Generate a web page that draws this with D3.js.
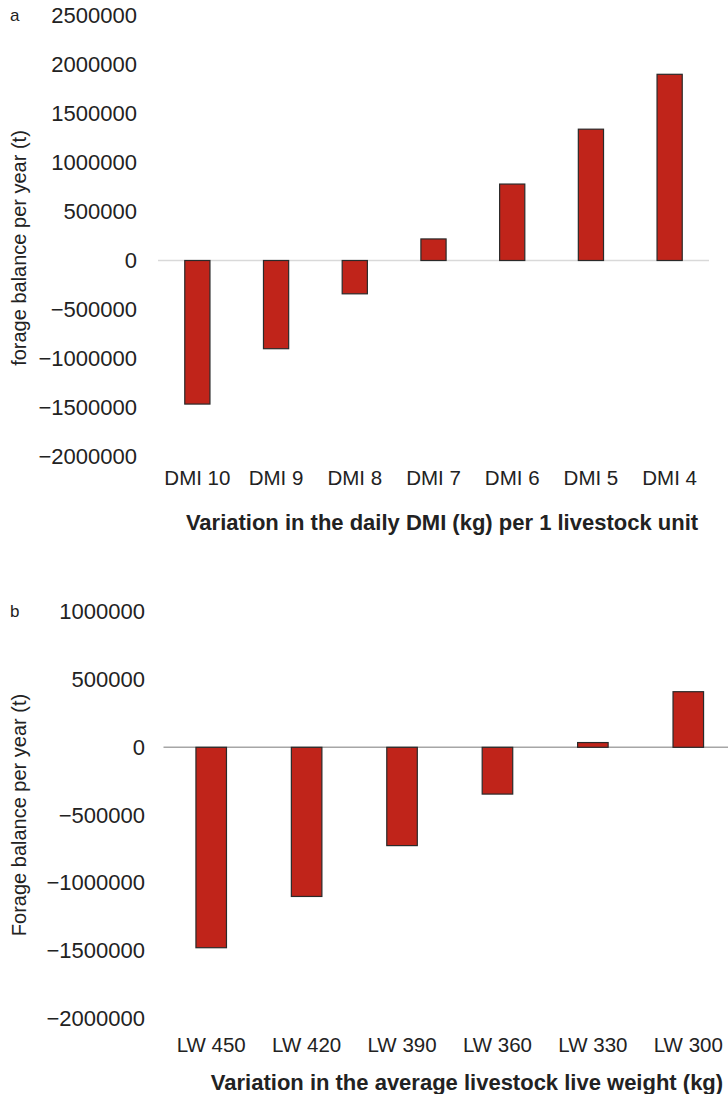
<!DOCTYPE html>
<html>
<head>
<meta charset="utf-8">
<script src="https://cdn.jsdelivr.net/npm/d3@7"></script>
<style>
  html, body { margin: 0; padding: 0; background: #fff; }
  svg { display: block; font-family: "Liberation Sans", Arial, sans-serif; }
</style>
</head>
<body>
<figure id="charts" style="margin:0"></figure>
<script>
// panel a: daily dry matter intake
const dmiCategories = ["DMI 10", "DMI 9", "DMI 8", "DMI 7", "DMI 6", "DMI 5", "DMI 4"];
const dmiValues = [-1465000, -900000, -340000, 220000, 780000, 1340000, 1900000];
const dmiTicks = [-2000000, -1500000, -1000000, -500000, 0, 500000, 1000000, 1500000, 2000000, 2500000];

// panel b: average live weight
const lwCategories = ["LW 450", "LW 420", "LW 390", "LW 360", "LW 330", "LW 300"];
const lwValues = [-1478000, -1100000, -725000, -345000, 35000, 410000];
const lwTicks = [-2000000, -1500000, -1000000, -500000, 0, 500000, 1000000];

const width = 728, height = 1094;
const barFill = "#c0241a";

const svg = d3.select("#charts")
  .append("svg")
  .attr("width", width)
  .attr("height", height);

function drawPanel(opts) {
  const g = svg.append("g");

  const x = d3.scaleBand()
    .domain(opts.categories)
    .range([opts.left, opts.right])
    .paddingInner(0.68)
    .paddingOuter(0.34);

  const y = d3.scaleLinear()
    .domain([opts.ticks[0], opts.ticks[opts.ticks.length - 1]])
    .range([opts.bottom, opts.top]);

  // y axis labels only, no line or ticks
  g.append("g")
    .attr("transform", "translate(" + opts.left + ",0)")
    .call(d3.axisLeft(y).tickValues(opts.ticks).tickFormat(d3.format("d")).tickSize(0).tickPadding(opts.yPad))
    .call(s => s.select(".domain").remove())
    .selectAll("text")
    .attr("font-size", 22)
    .attr("fill", "#222");

  // zero line
  g.append("line")
    .attr("x1", opts.left)
    .attr("x2", opts.right)
    .attr("y1", y(0))
    .attr("y2", y(0))
    .attr("stroke", opts.zeroColor)
    .attr("stroke-width", 1.5);

  // bars
  g.selectAll("rect.bar")
    .data(opts.values)
    .enter()
    .append("rect")
    .attr("class", "bar")
    .attr("x", (d, i) => x(opts.categories[i]))
    .attr("y", d => y(Math.max(0, d)))
    .attr("width", x.bandwidth())
    .attr("height", d => Math.abs(y(d) - y(0)))
    .attr("fill", barFill)
    .attr("stroke", "#2a2a2a")
    .attr("stroke-width", 1.2);

  // category labels
  g.append("g")
    .attr("transform", "translate(0," + opts.labelY + ")")
    .call(d3.axisBottom(x).tickSize(0).tickPadding(0))
    .call(s => s.select(".domain").remove())
    .selectAll("text")
    .attr("dy", "0.35em")
    .attr("font-size", 20.5)
    .attr("fill", "#222");

  // x title
  g.append("text")
    .attr("x", opts.titleX)
    .attr("y", opts.titleY)
    .attr("dy", "0.35em")
    .attr("text-anchor", "middle")
    .attr("font-size", 22)
    .attr("font-weight", "bold")
    .attr("fill", "#222")
    .text(opts.title);

  // y title
  g.append("text")
    .attr("transform", "translate(" + opts.yTitleX + "," + opts.yTitleY + ")rotate(-90)")
    .attr("dy", "0.35em")
    .attr("text-anchor", "middle")
    .attr("font-size", 20)
    .attr("fill", "#222")
    .text(opts.yTitle);

  // panel letter
  g.append("text")
    .attr("x", 10)
    .attr("y", opts.top)
    .attr("dy", "0.3em")
    .attr("font-size", 17)
    .attr("fill", "#222")
    .text(opts.letter);
}

drawPanel({
  categories: dmiCategories, values: dmiValues, ticks: dmiTicks,
  left: 158, right: 709, top: 15.5, bottom: 456.5, yPad: 21,
  zeroColor: "#d9d9d9", labelY: 478,
  title: "Variation in the daily DMI (kg) per 1 livestock unit", titleX: 442, titleY: 522,
  yTitle: "forage balance per year (t)", yTitleX: 19, yTitleY: 248, letter: "a"
});

drawPanel({
  categories: lwCategories, values: lwValues, ticks: lwTicks,
  left: 163.5, right: 736, top: 611.7, bottom: 1018.5, yPad: 18.5,
  zeroColor: "#a6a6a6", labelY: 1045,
  title: "Variation in the average livestock live weight (kg)", titleX: 467, titleY: 1082,
  yTitle: "Forage balance per year (t)", yTitleX: 19, yTitleY: 815, letter: "b"
});
</script>
</body>
</html>
